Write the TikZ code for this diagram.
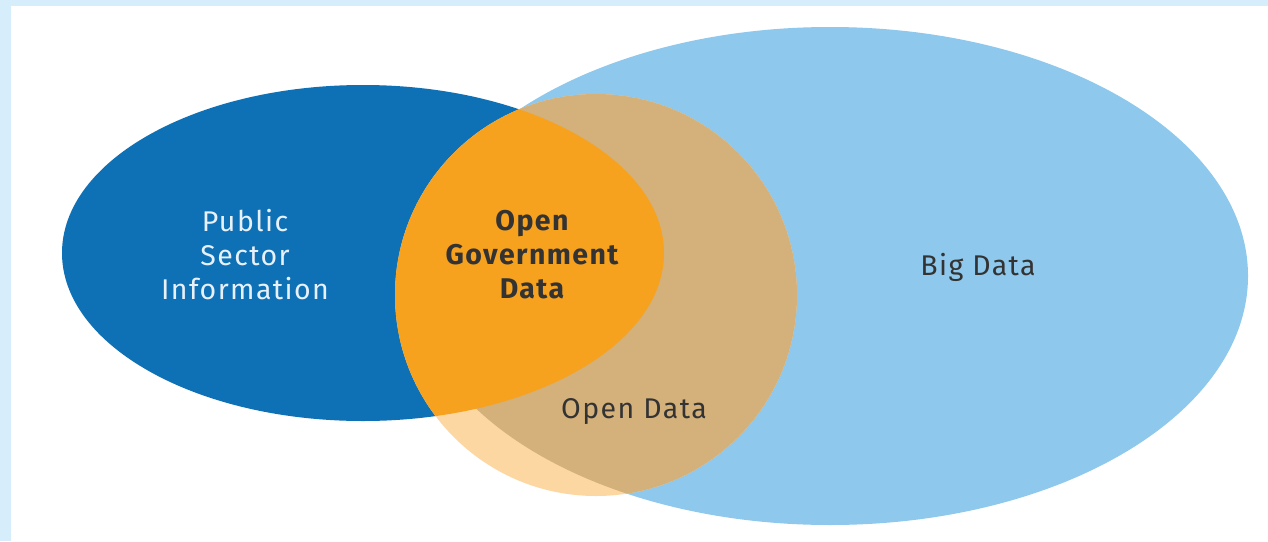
\documentclass[tikz,border=0pt]{standalone}
\usepackage{fontspec}
\setmainfont{Fira Sans}[LetterSpace=5]
\definecolor{frameblue}{HTML}{D6EDFB}
\definecolor{darkblue}{HTML}{0E70B5}
\definecolor{lightblue}{HTML}{8EC8EC}
\definecolor{brightorange}{HTML}{F7A21F}
\definecolor{tan}{HTML}{D4B07A}
\definecolor{peach}{HTML}{FCD7A2}
\definecolor{darktext}{HTML}{333333}
\definecolor{lighttext}{HTML}{E8F1FA}
\tikzset{
  lbl/.style={font=\fontsize{28.5}{34}\selectfont, align=center, inner sep=0pt},
}
\begin{document}
\begin{tikzpicture}[x=1pt,y=-1pt]
\useasboundingbox (0,0) rectangle (1268,541);
\fill[frameblue] (0,0) rectangle (1268,541);
\fill[white] (11,6) rectangle (1268,541);
% Big Data ellipse
\fill[lightblue] (830,276) ellipse [x radius=418pt, y radius=249pt];
% Public Sector Information ellipse
\fill[darkblue] (363,253) ellipse [x radius=301pt, y radius=168pt];
% Open Data circle
\fill[peach] (596,295) circle [radius=201pt];
\begin{scope}
  \clip (596,295) circle [radius=201pt];
  \clip (830,276) ellipse [x radius=418pt, y radius=249pt];
  \fill[tan] (596,295) circle [radius=202pt];
\end{scope}
\begin{scope}
  \clip (596,295) circle [radius=201pt];
  \clip (363,253) ellipse [x radius=301pt, y radius=168pt];
  \fill[brightorange] (596,295) circle [radius=202pt];
\end{scope}
% labels
\node[lbl, text=lighttext] (psi) at (245,255) {Public\\Sector\\Information};
\node[lbl, text=darktext, font=\fontsize{28.5}{34}\selectfont\bfseries] (ogd) at (532,255) {Open\\Government\\Data};
\node[lbl, text=darktext] (bd) at (978,267) {Big Data};
\node[lbl, text=darktext] (od) at (634,412) {Open Data};
\end{tikzpicture}
\end{document}
